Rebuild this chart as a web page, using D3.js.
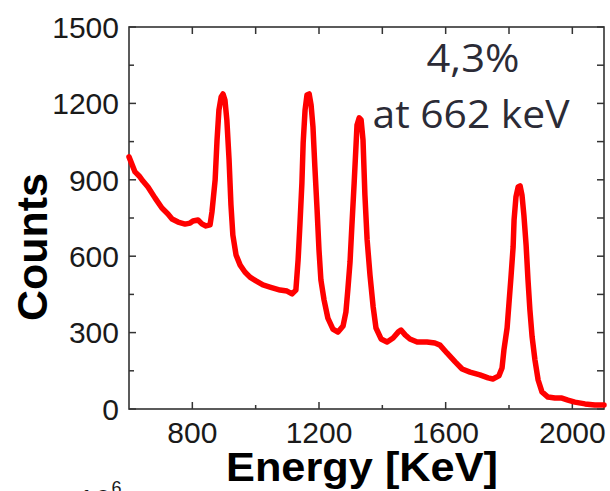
<!DOCTYPE html>
<html>
<head>
<meta charset="utf-8">
<script src="https://cdn.jsdelivr.net/npm/d3@7"></script>
<style>
  html, body { margin: 0; padding: 0; background: #fff; }
  svg { display: block; }
</style>
</head>
<body>
<svg id="chart" width="610" height="491"></svg>
<script>
// Energy (keV) and counts
const energy = [600, 619, 632, 644, 660, 682, 704, 723, 736, 755, 777, 793, 802, 818, 831, 843, 856, 862,
  872, 878, 884, 891, 897, 903, 909, 916, 922, 928, 938, 951, 966, 982, 1001, 1023, 1045, 1077, 1099, 1115,
  1127, 1134, 1140, 1146, 1150, 1156, 1162, 1169, 1175, 1181, 1187, 1194, 1200, 1206, 1216, 1228, 1244, 1260,
  1276, 1285, 1291, 1298, 1304, 1311, 1317, 1320, 1327, 1333, 1339, 1345, 1352, 1361, 1371, 1380, 1396, 1415,
  1434, 1450, 1459, 1472, 1487, 1510, 1541, 1566, 1582, 1604, 1630, 1652, 1677, 1708, 1734, 1749, 1768, 1778,
  1784, 1794, 1800, 1806, 1813, 1816, 1822, 1829, 1835, 1841, 1847, 1854, 1860, 1866, 1873, 1882, 1892, 1904,
  1923, 1945, 1967, 1986, 2008, 2040, 2071, 2100];
const counts = [990, 931, 915, 895, 872, 829, 789, 766, 746, 734, 726, 730, 738, 742, 726, 719, 723, 774,
  899, 1056, 1174, 1225, 1237, 1213, 1135, 978, 801, 683, 605, 565, 538, 518, 503, 487, 479, 467, 463, 452,
  467, 585, 730, 887, 1045, 1174, 1233, 1237, 1194, 1107, 950, 781, 624, 507, 428, 357, 314, 302,
  326, 381, 467, 577, 723, 887, 1037, 1115, 1143, 1135, 1056, 840, 664, 526, 401, 318, 275, 263,
  279, 302, 310, 291, 275, 263, 263, 259, 251, 220, 185, 157, 145, 134, 122, 118, 130, 161,
  232, 318, 416, 514, 636, 742, 833, 872, 876, 840, 762, 644, 507, 389, 283, 192, 114, 67,
  47, 43, 43, 35, 27, 20, 16, 16];

const xDomain = [600, 2100];
const yDomain = [0, 1500];
const xMajorTicks = [800, 1200, 1600, 2000];
const xMinorTicks = [1000, 1400, 1800];
const yMajorTicks = [0, 300, 600, 900, 1200, 1500];
const yMinorTicks = [150, 450, 750, 1050, 1350];
const xTitle = "Energy [KeV]";
const yTitle = "Counts";
const noteLines = ["4,3%", "at 662 keV"];

const svg = d3.select("#chart");
const L = 129, T = 27, W = 475, H = 382;
const x = d3.scaleLinear().domain(xDomain).range([L, L + W]);
const y = d3.scaleLinear().domain(yDomain).range([T + H, T]);

const axisColor = "#333";
const font = "'Liberation Sans', Arial, sans-serif";

// Frame
svg.append("rect").attr("x", L).attr("y", T).attr("width", W).attr("height", H)
  .attr("fill", "none").attr("stroke", axisColor).attr("stroke-width", 1.6);

const MAJ = 7, MIN = 4;
const tg = svg.append("g").attr("stroke", axisColor).attr("stroke-width", 1.5);
// bottom & top ticks (inward)
xMajorTicks.forEach(v => {
  tg.append("line").attr("x1", x(v)).attr("x2", x(v)).attr("y1", T + H).attr("y2", T + H - MAJ);
  tg.append("line").attr("x1", x(v)).attr("x2", x(v)).attr("y1", T).attr("y2", T + MAJ);
});
xMinorTicks.forEach(v => {
  tg.append("line").attr("x1", x(v)).attr("x2", x(v)).attr("y1", T + H).attr("y2", T + H - MIN);
  tg.append("line").attr("x1", x(v)).attr("x2", x(v)).attr("y1", T).attr("y2", T + MAJ);
});
yMajorTicks.forEach(v => {
  tg.append("line").attr("x1", L).attr("x2", L + MAJ).attr("y1", y(v)).attr("y2", y(v));
  tg.append("line").attr("x1", L + W).attr("x2", L + W - MAJ).attr("y1", y(v)).attr("y2", y(v));
});
yMinorTicks.forEach(v => {
  tg.append("line").attr("x1", L).attr("x2", L + MIN + 1).attr("y1", y(v)).attr("y2", y(v));
  tg.append("line").attr("x1", L + W).attr("x2", L + W - MAJ).attr("y1", y(v)).attr("y2", y(v));
});

// Tick labels
svg.append("g").selectAll("text").data(xMajorTicks).join("text")
  .attr("x", d => x(d)).attr("y", T + H + 34)
  .attr("text-anchor", "middle").attr("font-family", font).attr("font-size", 30)
  .attr("fill", "#1a1a1a").text(d => d);
svg.append("g").selectAll("text").data(yMajorTicks).join("text")
  .attr("x", L - 10).attr("y", d => y(d)).attr("dy", "0.36em")
  .attr("text-anchor", "end").attr("font-family", font).attr("font-size", 30)
  .attr("fill", "#1a1a1a").text(d => d);

// Axis titles
svg.append("text").attr("x", 362).attr("y", 481).attr("text-anchor", "middle")
  .attr("font-family", font).attr("font-weight", "bold").attr("font-size", 40)
  .attr("textLength", 272).attr("lengthAdjust", "spacingAndGlyphs")
  .attr("fill", "#000").text(xTitle);
svg.append("text").attr("transform", "translate(47,247) rotate(-90)").attr("text-anchor", "middle")
  .attr("font-family", font).attr("font-weight", "bold").attr("font-size", 43)
  .attr("fill", "#000").text(yTitle);

// Spectrum line
const pts = energy.map((e, i) => [e, counts[i]]);
const line = d3.line().x(d => x(d[0])).y(d => y(d[1])).curve(d3.curveLinear);
svg.append("path").datum(pts).attr("d", line).attr("fill", "none")
  .attr("stroke", "#ff0000").attr("stroke-width", 5.5).attr("stroke-linejoin", "round")
  .attr("stroke-linecap", "round");

// Annotation
const noteFont = "'Open Sans', 'Noto Sans', sans-serif";
svg.append("text").attr("x", 473).attr("y", 72).attr("text-anchor", "middle")
  .attr("font-family", noteFont).attr("font-size", 38).attr("fill", "#2b2b36")
  .attr("textLength", 93).attr("lengthAdjust", "spacingAndGlyphs").text(noteLines[0]);
svg.append("text").attr("x", 471).attr("y", 128).attr("text-anchor", "middle")
  .attr("font-family", noteFont).attr("font-size", 38).attr("fill", "#2b2b36")
  .attr("textLength", 197).attr("lengthAdjust", "spacingAndGlyphs").text(noteLines[1]);

// Cropped label from a chart below (only its top shows)
const cut = svg.append("text").attr("x", 78).attr("y", 510).attr("font-family", font)
  .attr("font-size", 30).attr("fill", "#1a1a1a");
cut.append("tspan").text("10");
cut.append("tspan").attr("dy", -16).attr("font-size", 18).text("6");
</script>
</body>
</html>
